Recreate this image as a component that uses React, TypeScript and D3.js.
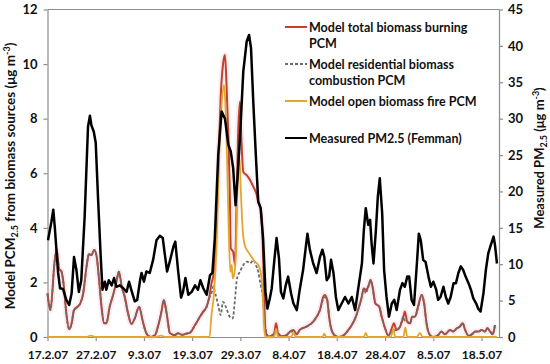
import React, { useEffect, useRef } from "react";
import * as d3 from "d3";

// time axis: 17.2.07 to ~21.5.07, values are days since 17.2.07
const startDate = new Date(2007, 1, 17);
const endDate = new Date(2007, 4, 21, 15);

const dateTicks = ["17.2.07", "27.2.07", "9.3.07", "19.3.07", "29.3.07", "8.4.07", "18.4.07", "28.4.07", "8.5.07", "18.5.07"];
const leftTicks = [0, 2, 4, 6, 8, 10, 12];
const rightTicks = [0, 5, 10, 15, 20, 25, 30, 35, 40, 45];

// Measured PM2.5 (Femman), right axis
const measuredDays = [0.1, 0.8, 1.2, 1.5, 2.2, 2.6, 3.2, 3.9, 4.5, 5.0, 5.5, 6.0, 6.5, 7.0, 7.7, 8.4, 8.8, 9.1, 9.6, 10.0, 10.5, 11.0, 11.4, 11.9, 12.2, 12.7, 13.3, 13.8, 14.3, 15.0, 15.7, 16.4, 16.9, 17.5, 18.1, 18.6, 19.2, 19.5, 20.0, 20.5, 21.2, 21.9, 22.6, 23.3, 23.9, 24.3, 24.8, 25.4, 26.1, 26.5, 27.1, 27.7, 28.1, 28.6, 29.2, 29.9, 30.6, 31.2, 31.7, 32.3, 33.0, 33.7, 34.2, 34.7, 35.4, 36.1, 36.8, 37.5, 38.0, 38.5, 39.0, 39.4, 39.9, 40.6, 41.3, 41.8, 42.2, 42.7, 43.2, 43.7, 44.2, 44.7, 45.2, 45.6, 46.1, 46.5, 47.0, 47.5, 48.0, 48.4, 48.9, 49.4, 49.9, 50.5, 51.0, 51.7, 52.3, 53.0, 53.5, 53.9, 54.4, 55.1, 55.8, 56.5, 57.0, 57.4, 57.9, 58.4, 58.8, 59.3, 59.8, 60.3, 61.0, 61.7, 62.4, 63.1, 63.8, 64.4, 65.2, 65.6, 66.0, 66.5, 66.9, 67.2, 67.6, 68.1, 68.5, 68.9, 69.4, 69.8, 70.3, 70.8, 71.4, 71.9, 72.4, 73.1, 73.6, 74.1, 74.6, 75.0, 75.5, 76.0, 76.6, 77.0, 77.4, 77.9, 78.4, 79.0, 79.5, 80.0, 80.6, 81.0, 81.5, 82.1, 82.6, 83.1, 83.6, 84.2, 84.7, 85.2, 85.7, 86.2, 86.7, 87.3, 87.8, 88.3, 88.9, 89.3, 89.8, 90.4, 90.9, 91.4, 91.9, 92.5, 92.8, 93.2];
const measured = [13.3, 15.8, 17.5, 15.2, 8.8, 6.7, 6.6, 5.1, 4.4, 6.0, 11.0, 9.2, 6.2, 7.8, 16.5, 28.9, 30.4, 29.1, 28.2, 26.7, 18.8, 11.5, 6.5, 7.6, 6.5, 7.8, 7.1, 8.1, 6.9, 7.1, 6.7, 6.2, 7.6, 6.2, 4.9, 5.1, 7.8, 8.8, 7.6, 9.0, 8.8, 10.6, 13.3, 13.9, 13.6, 11.5, 9.0, 10.5, 12.4, 13.1, 9.0, 5.4, 6.2, 8.1, 5.8, 6.2, 7.1, 6.5, 7.8, 6.7, 5.8, 8.5, 8.8, 13.6, 25.0, 31.0, 30.0, 26.4, 25.5, 23.2, 18.1, 21.8, 27.3, 36.5, 40.6, 41.5, 39.7, 31.9, 25.0, 18.6, 17.7, 13.6, 6.2, 3.9, 5.3, 6.7, 10.3, 13.6, 10.8, 6.2, 5.3, 7.1, 8.3, 6.0, 4.6, 3.7, 6.5, 9.2, 12.0, 14.2, 12.0, 10.1, 8.8, 11.0, 12.0, 11.0, 7.8, 8.3, 10.6, 8.8, 5.5, 3.7, 4.6, 5.5, 4.6, 5.5, 3.7, 6.5, 10.1, 14.7, 17.7, 15.4, 16.1, 12.9, 10.1, 14.7, 19.3, 21.8, 17.0, 9.2, 5.5, 2.8, 4.6, 5.1, 3.7, 6.5, 7.4, 6.9, 8.3, 8.3, 5.1, 4.4, 10.1, 14.2, 13.3, 10.6, 10.3, 8.3, 6.9, 7.6, 6.5, 5.1, 5.5, 6.9, 5.5, 4.6, 5.5, 7.4, 7.4, 8.8, 9.7, 9.2, 8.3, 7.4, 6.5, 5.3, 4.6, 3.9, 3.5, 6.0, 9.2, 11.5, 12.6, 13.8, 12.6, 10.1];

// Model total biomass burning PCM, left axis
const totalDays = [0, 0.6, 1.5, 1.9, 2.4, 2.9, 3.4, 3.9, 4.5, 5.0, 5.5, 6.1, 6.8, 7.4, 8.1, 8.6, 9.1, 9.7, 10.2, 10.7, 11.2, 11.7, 12.2, 12.9, 13.6, 14.3, 14.8, 15.4, 16.0, 16.7, 17.4, 18.1, 19.0, 19.7, 20.5, 21.4, 22.3, 22.9, 23.7, 24.1, 24.7, 25.4, 26.4, 27.1, 27.9, 28.7, 29.5, 30.6, 31.6, 32.3, 33.0, 33.5, 34.0, 34.4, 34.9, 35.4, 35.9, 36.4, 36.8, 37.1, 37.5, 37.8, 38.0, 38.5, 38.9, 39.2, 39.5, 39.9, 40.2, 40.6, 41.3, 42.0, 42.7, 43.4, 43.7, 44.2, 44.6, 44.9, 45.2, 45.8, 46.5, 47.0, 47.4, 47.8, 48.5, 49.6, 50.3, 51.0, 51.7, 52.3, 53.7, 55.1, 55.8, 56.5, 57.2, 57.5, 58.0, 58.4, 58.9, 59.6, 60.3, 61.3, 62.4, 63.1, 63.8, 64.4, 65.1, 65.6, 66.0, 66.5, 67.0, 67.4, 68.0, 68.4, 68.8, 69.3, 70.0, 70.7, 71.4, 71.8, 72.4, 73.1, 73.8, 74.1, 74.6, 75.2, 75.6, 76.2, 76.9, 77.6, 78.1, 78.6, 79.2, 80.0, 81.0, 81.7, 82.4, 83.5, 84.1, 84.9, 85.5, 86.1, 86.6, 87.3, 88.0, 88.7, 89.4, 90.0, 90.7, 91.2, 91.8, 92.3, 92.8];
const total = [1.6, 0.99, 2.8, 3.19, 2.5, 2.4, 1.84, 0.87, 0.28, 0.5, 0.99, 1.09, 1.23, 1.6, 2.58, 3.04, 3.0, 3.19, 2.94, 2.09, 1.11, 0.52, 0.5, 1.11, 1.54, 2.03, 2.39, 1.84, 1.48, 0.87, 0.48, 0.68, 1.11, 0.62, 0.14, 0.0, 0.07, 0.38, 0.99, 1.36, 0.87, 0.14, 0.07, 0.14, 0.08, 0.12, 0.15, 0.44, 0.74, 0.93, 1.11, 1.42, 1.97, 2.27, 3.6, 6.05, 8.74, 10.0, 10.33, 9.35, 7.4, 5.32, 3.25, 3.12, 2.64, 4.84, 7.28, 8.62, 7.28, 6.05, 5.93, 5.75, 5.5, 5.2, 4.95, 4.71, 3.6, 1.78, 0.2, 0.02, 0.05, 0.14, 0.5, 0.14, 0.03, 0.07, 0.2, 0.26, 0.1, 0.26, 0.38, 0.56, 0.74, 0.99, 1.48, 1.54, 1.36, 0.74, 0.26, 0.05, 0.0, 0.05, 0.26, 0.44, 0.68, 0.99, 1.42, 1.78, 1.72, 1.84, 2.09, 1.84, 1.23, 1.17, 1.11, 0.74, 0.32, 0.05, 0.32, 0.5, 0.26, 0.38, 0.74, 0.93, 0.56, 0.5, 0.74, 0.74, 1.17, 1.54, 1.23, 0.5, 0.1, 0.0, 0.07, 0.2, 0.1, 0.26, 0.2, 0.32, 0.38, 0.5, 0.26, 0.05, 0.1, 0.2, 0.2, 0.26, 0.2, 0.32, 0.2, 0.1, 0.44];

// Model residential biomass combustion PCM, left axis
const residentialDays = [0, 0.6, 1.5, 1.9, 2.4, 2.9, 3.4, 3.9, 4.5, 5.0, 5.5, 6.1, 6.8, 7.4, 8.1, 8.6, 9.1, 9.7, 10.2, 10.7, 11.2, 11.7, 12.2, 12.9, 13.6, 14.3, 14.8, 15.4, 16.0, 16.7, 17.4, 18.1, 19.0, 19.7, 20.5, 21.4, 22.3, 22.9, 23.7, 24.1, 24.7, 25.4, 26.4, 27.1, 27.9, 28.7, 29.5, 30.6, 31.6, 32.3, 33.0, 33.5, 34.0, 34.4, 34.7, 35.4, 35.9, 36.4, 37.1, 37.8, 38.4, 38.9, 39.3, 39.9, 40.6, 41.4, 42.0, 42.7, 43.2, 43.7, 44.2, 44.7, 45.1, 45.8, 46.5, 47.0, 47.4, 47.8, 48.5, 49.6, 50.3, 51.0, 51.7, 52.3, 53.7, 55.1, 55.8, 56.5, 57.2, 57.5, 58.0, 58.4, 58.9, 59.6, 60.3, 61.3, 62.4, 63.1, 63.8, 64.4, 65.1, 65.6, 66.0, 66.5, 67.0, 67.4, 68.0, 68.4, 68.8, 69.3, 70.0, 70.7, 71.4, 71.8, 72.4, 73.1, 73.8, 74.1, 74.6, 75.2, 75.6, 76.2, 76.9, 77.6, 78.1, 78.6, 79.2, 80.0, 81.0, 81.7, 82.4, 83.5, 84.1, 84.9, 85.5, 86.1, 86.6, 87.3, 88.0, 88.7, 89.4, 90.0, 90.7, 91.2, 91.8, 92.3, 92.8];
const residential = [1.6, 0.99, 2.8, 3.19, 2.5, 2.4, 1.84, 0.87, 0.28, 0.5, 0.99, 1.09, 1.23, 1.6, 2.58, 3.04, 3.0, 3.19, 2.94, 2.09, 1.11, 0.52, 0.5, 1.11, 1.54, 2.03, 2.39, 1.84, 1.48, 0.87, 0.48, 0.68, 1.11, 0.62, 0.14, 0.0, 0.07, 0.38, 0.99, 1.36, 0.87, 0.14, 0.07, 0.14, 0.08, 0.12, 0.15, 0.44, 0.74, 0.93, 1.11, 1.42, 1.6, 1.85, 1.66, 1.17, 0.8, 1.29, 1.05, 0.74, 0.68, 1.42, 2.15, 2.39, 2.64, 2.76, 2.7, 2.82, 2.64, 2.39, 1.9, 1.42, 0.44, 0.02, 0.05, 0.14, 0.2, 0.14, 0.03, 0.07, 0.2, 0.2, 0.1, 0.26, 0.38, 0.56, 0.74, 0.99, 1.4, 1.45, 1.36, 0.74, 0.26, 0.05, 0.0, 0.05, 0.26, 0.44, 0.68, 0.99, 1.42, 1.78, 1.6, 1.84, 2.09, 1.84, 1.23, 1.17, 1.11, 0.74, 0.32, 0.05, 0.2, 0.25, 0.26, 0.38, 0.74, 0.6, 0.56, 0.5, 0.74, 0.74, 1.1, 1.54, 1.23, 0.5, 0.1, 0.0, 0.07, 0.2, 0.1, 0.26, 0.2, 0.32, 0.38, 0.5, 0.26, 0.05, 0.1, 0.2, 0.2, 0.26, 0.2, 0.32, 0.2, 0.1, 0.44];

// Model open biomass fire PCM, left axis
const openDays = [0, 8.0, 9.0, 10.0, 22.5, 23.5, 24.5, 33.6, 34.0, 34.5, 35.1, 35.6, 36.1, 36.6, 36.9, 37.3, 37.6, 37.9, 38.2, 38.4, 38.7, 39.1, 39.4, 39.8, 40.1, 40.5, 40.9, 41.6, 42.3, 43.0, 43.7, 44.2, 44.6, 44.9, 45.2, 47.0, 47.4, 47.8, 50.5, 51.0, 51.5, 57.0, 57.4, 57.8, 65.6, 66.0, 66.4, 71.2, 71.7, 72.1, 73.8, 74.2, 74.6, 76.6, 77.2, 77.8, 93.2];
const openFire = [0, 0, 0.05, 0, 0, 0.05, 0, 0, 0.8, 1.54, 3.6, 6.67, 8.5, 9.23, 8.5, 6.05, 3.86, 2.39, 2.64, 2.15, 2.27, 3.25, 5.57, 6.6, 5.32, 3.86, 3.37, 3.12, 2.94, 2.76, 2.64, 2.39, 1.66, 0.44, 0, 0, 0.3, 0, 0, 0.15, 0, 0, 0.12, 0, 0, 0.15, 0, 0, 0.3, 0, 0, 0.35, 0, 0, 0.15, 0, 0];

const legendItems = [
  { lines: ["Model total biomass burning", "PCM"], color: "#c0412e", dash: "" },
  { lines: ["Model residential biomass", "combustion PCM"], color: "#6b6b6b", dash: "3,2" },
  { lines: ["Model open biomass fire PCM"], color: "#e2a62c", dash: "" },
  { lines: ["Measured PM2.5 (Femman)"], color: "#000000", dash: "" },
];

const FONT = "Lato, 'Open Sans', sans-serif";

const App: React.FC = () => {
  const svgRef = useRef<SVGSVGElement>(null);

  useEffect(() => {
    if (!svgRef.current) return;
    const svg = d3.select(svgRef.current);
    svg.selectAll("*").remove();

    const left = 47.5;
    const right = 499;
    const top = 9.5;
    const bottom = 337;
    const axisColor = "#8c8c8c";

    const toDate = (d: number) => new Date(startDate.getTime() + d * 864e5);

    const x = d3.scaleTime().domain([startDate, endDate]).range([left, right]);
    const yLeft = d3.scaleLinear().domain([0, 12]).range([bottom, top]);
    const yRight = d3.scaleLinear().domain([0, 45]).range([bottom, top]);

    const parse = d3.timeParse("%d.%m.%y");
    const tickDates = dateTicks.map((t) => parse(t) as Date);

    // frame top line
    svg
      .append("line")
      .attr("x1", left)
      .attr("x2", right)
      .attr("y1", top)
      .attr("y2", top)
      .attr("stroke", axisColor)
      .attr("stroke-width", 1);

    const styleAxis = (g: d3.Selection<SVGGElement, unknown, null, undefined>) => {
      g.select(".domain").attr("stroke", axisColor).attr("stroke-width", 1.2);
      g.selectAll(".tick line").attr("stroke", axisColor).attr("stroke-width", 1.2);
      g.selectAll(".tick text")
        .attr("fill", "#111")
        .style("font-family", FONT)
        .style("font-weight", "700");
    };

    const gx = svg
      .append("g")
      .attr("transform", `translate(0,${bottom})`)
      .call(
        d3
          .axisBottom(x)
          .tickValues(tickDates)
          .tickFormat((_, i) => dateTicks[i])
          .tickSize(4)
          .tickSizeOuter(0)
          .tickPadding(9)
      );
    styleAxis(gx);
    gx.selectAll(".tick text").style("font-size", "12px");

    const gl = svg
      .append("g")
      .attr("transform", `translate(${left},0)`)
      .call(d3.axisLeft(yLeft).tickValues(leftTicks).tickSize(4).tickSizeOuter(0).tickPadding(6));
    styleAxis(gl);
    gl.selectAll(".tick text").style("font-size", "13px");

    const gr = svg
      .append("g")
      .attr("transform", `translate(${right},0)`)
      .call(d3.axisRight(yRight).tickValues(rightTicks).tickSize(4).tickSizeOuter(0).tickPadding(5));
    styleAxis(gr);
    gr.selectAll(".tick text").style("font-size", "13px");

    // series
    const mkLine = (ys: d3.ScaleLinear<number, number>, curve: d3.CurveFactory) =>
      d3
        .line<[number, number]>()
        .x((d) => x(toDate(d[0])))
        .y((d) => ys(d[1]))
        .curve(curve);

    const zip = (a: number[], b: number[]) => a.map((d, i) => [d, b[i]] as [number, number]);

    const modelLine = mkLine(yLeft, d3.curveMonotoneX);
    const measLine = mkLine(yRight, d3.curveLinear);

    const plot = svg.append("g");

    // faint pink glow seen around the red line
    plot
      .append("path")
      .attr("d", modelLine(zip(totalDays, total)))
      .attr("fill", "none")
      .attr("stroke", "#f8d3e2")
      .attr("stroke-width", 6)
      .attr("stroke-linejoin", "round")
      .attr("opacity", 0.4);

    plot
      .append("path")
      .attr("d", modelLine(zip(totalDays, total)))
      .attr("fill", "none")
      .attr("stroke", legendItems[0].color)
      .attr("stroke-width", 2)
      .attr("stroke-linejoin", "round");

    plot
      .append("path")
      .attr("d", modelLine(zip(residentialDays, residential)))
      .attr("fill", "none")
      .attr("stroke", legendItems[1].color)
      .attr("stroke-width", 1.8)
      .attr("stroke-dasharray", "3,2");

    plot
      .append("path")
      .attr("d", modelLine(zip(openDays, openFire)))
      .attr("fill", "none")
      .attr("stroke", legendItems[2].color)
      .attr("stroke-width", 1.8)
      .attr("stroke-linejoin", "round");

    plot
      .append("path")
      .attr("d", measLine(zip(measuredDays, measured)))
      .attr("fill", "none")
      .attr("stroke", "#000")
      .attr("stroke-width", 2.5)
      .attr("stroke-linejoin", "round");

    // legend
    const legendRows = [27, 64, 101, 138];
    const lg = svg.append("g").style("font-family", FONT).style("font-weight", "700").style("font-size", "12.5px");
    legendItems.forEach((item, i) => {
      const cy = legendRows[i];
      lg.append("line")
        .attr("x1", 285)
        .attr("x2", 307)
        .attr("y1", cy)
        .attr("y2", cy)
        .attr("stroke", item.color)
        .attr("stroke-width", 2)
        .attr("stroke-dasharray", item.dash || null);
      item.lines.forEach((t, j) => {
        lg.append("text")
          .attr("x", 309)
          .attr("y", cy + 4.5 + j * 16.5)
          .attr("fill", "#111")
          .text(t);
      });
    });

    // axis titles
    const lt = svg
      .append("text")
      .attr("transform", "translate(15,176) rotate(-90)")
      .attr("text-anchor", "middle")
      .attr("fill", "#111")
      .style("font-family", FONT)
      .style("font-weight", "700")
      .style("font-size", "13.5px");
    lt.append("tspan").text("Model PCM");
    lt.append("tspan").attr("dy", 3).style("font-size", "9px").text("2.5");
    lt.append("tspan").attr("dy", -3).text(" from biomass sources (μg m");
    lt.append("tspan").attr("dy", -5).style("font-size", "9px").text("-3");
    lt.append("tspan").attr("dy", 5).text(")");

    const rt = svg
      .append("text")
      .attr("transform", "translate(544,158) rotate(-90)")
      .attr("text-anchor", "middle")
      .attr("fill", "#111")
      .style("font-family", FONT)
      .style("font-weight", "700")
      .style("font-size", "13px");
    rt.append("tspan").text("Measured PM");
    rt.append("tspan").attr("dy", 3).style("font-size", "9px").text("2.5");
    rt.append("tspan").attr("dy", -3).text(" (μg m");
    rt.append("tspan").attr("dy", -5).style("font-size", "9px").text("-3");
    rt.append("tspan").attr("dy", 5).text(")");
  }, []);

  return (
    <svg
      ref={svgRef}
      width={550}
      height={364}
      style={{ position: "absolute", left: 0, top: 0, background: "#fff" }}
    />
  );
};

export default App;
